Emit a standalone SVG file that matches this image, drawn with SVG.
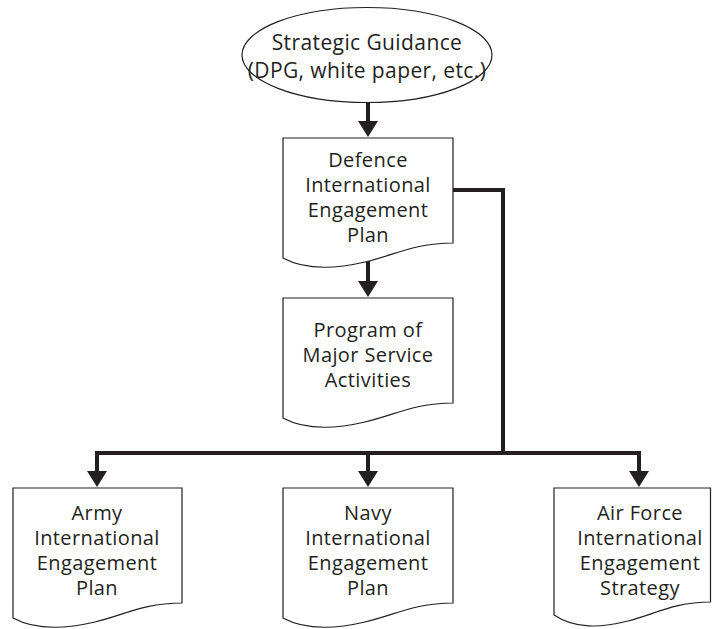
<svg xmlns="http://www.w3.org/2000/svg" width="712" height="629" viewBox="0 0 712 629">
<style>
.shape{fill:#fff;stroke:#231f20;stroke-width:1.2}
.lbl{font-family:"Open Sans","Noto Sans","Liberation Sans",sans-serif;font-size:20px;letter-spacing:0.4px;fill:#231f20;text-anchor:middle}
.big{font-size:21px}
.conn{fill:none;stroke:#231f20;stroke-width:4;stroke-linejoin:miter}
</style>
<defs>
<marker id="ah" viewBox="0 0 16 20" refX="8" refY="10" markerWidth="16" markerHeight="20" markerUnits="userSpaceOnUse" orient="auto">
<path d="M0,0 L16,10 L0,20 Z" fill="#231f20"/>
</marker>
</defs>
<g id="connectors">
<path class="conn" d="M368,102 V129" marker-end="url(#ah)"/>
<path class="conn" d="M368,261 V289" marker-end="url(#ah)"/>
<path class="conn" d="M453,190 H503 V453 H97 V479" marker-end="url(#ah)"/>
<path class="conn" d="M368,453 V479" marker-end="url(#ah)"/>
<path class="conn" d="M503,453 H639 V479" marker-end="url(#ah)"/>
</g>
<g id="strategic">
<ellipse class="shape" cx="367" cy="55" rx="125" ry="47.5"/>
<text class="lbl big" x="367" y="50">Strategic Guidance</text>
<text class="lbl big" x="367" y="78">(DPG, white paper, etc.)</text>
</g>
<g id="defence">
<path class="shape" d="M283,138 H453 V243 C415,243 395,255 365,262 C335,269 305,270 283,258 Z"/>
<text class="lbl" x="368" y="167">Defence</text>
<text class="lbl" x="368" y="192">International</text>
<text class="lbl" x="368" y="217">Engagement</text>
<text class="lbl" x="368" y="242">Plan</text>
</g>
<g id="program">
<path class="shape" d="M283,298 H453 V403 C415,403 395,415 365,422 C335,429 305,430 283,418 Z"/>
<text class="lbl" x="368" y="337">Program of</text>
<text class="lbl" x="368" y="362">Major Service</text>
<text class="lbl" x="368" y="387">Activities</text>
</g>
<g id="army">
<path class="shape" d="M13,488 H182 V603 C144,603 124,615 95,622 C65,629 35,630 13,618 Z"/>
<text class="lbl" x="97" y="520">Army</text>
<text class="lbl" x="97" y="545">International</text>
<text class="lbl" x="97" y="570">Engagement</text>
<text class="lbl" x="97" y="595">Plan</text>
</g>
<g id="navy">
<path class="shape" d="M283,488 H453 V603 C415,603 395,615 365,622 C335,629 305,630 283,618 Z"/>
<text class="lbl" x="368" y="520">Navy</text>
<text class="lbl" x="368" y="545">International</text>
<text class="lbl" x="368" y="570">Engagement</text>
<text class="lbl" x="368" y="595">Plan</text>
</g>
<g id="airforce">
<path class="shape" d="M554,488 H710.5 V602 C675,602 655,614 628,621 C600,628 575,629 554,615 Z"/>
<text class="lbl" x="640" y="520">Air Force</text>
<text class="lbl" x="640" y="545">International</text>
<text class="lbl" x="640" y="570">Engagement</text>
<text class="lbl" x="640" y="595">Strategy</text>
</g>
</svg>
